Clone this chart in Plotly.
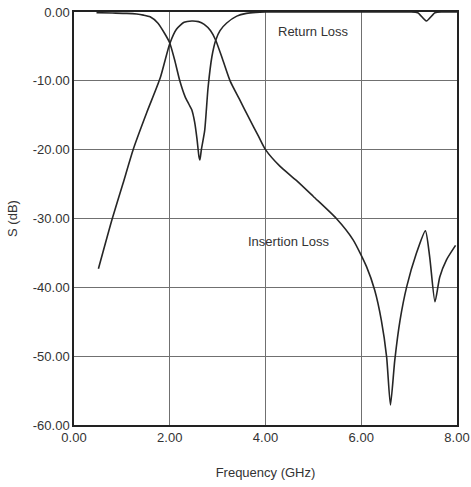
import plotly.graph_objects as go

# Return loss (S11)
rl_freq = [0.47, 0.8, 1.1, 1.31, 1.45, 1.59, 1.75, 1.9, 2.0, 2.1, 2.21, 2.32, 2.40, 2.46, 2.52, 2.57,
           2.61, 2.63, 2.66, 2.73, 2.80, 2.88, 2.96, 3.05, 3.19, 3.40, 3.6, 3.8, 4.0, 5.0, 6.0,
           7.0, 7.18, 7.36, 7.54, 7.7, 8.0]
rl_db = [-0.1, -0.15, -0.2, -0.3, -0.45, -0.7, -1.6, -3.2, -4.5, -6.9, -10.0, -12.3, -13.4, -14.2, -16.0, -18.5,
         -21.0, -21.5, -20.0, -17.2, -11.0, -6.5, -4.1, -2.7, -1.6, -0.6, -0.2, -0.05, 0, 0, 0,
         0, -0.1, -1.3, -0.1, 0, 0]

# Insertion loss (S21)
il_freq = [0.51, 0.80, 1.02, 1.24, 1.52, 1.80, 2.0, 2.14, 2.30, 2.46, 2.6, 2.72, 2.85, 2.96, 3.10, 3.26,
           3.45, 3.67, 3.85, 4.0, 4.3, 4.65, 5.0, 5.48, 5.83, 6.11, 6.28, 6.42, 6.53, 6.61, 6.70, 6.81,
           6.95, 7.15, 7.34, 7.43, 7.54, 7.64, 7.78, 7.97]
il_db = [-37.3, -30.0, -25.0, -19.9, -14.6, -9.6, -4.6, -2.5, -1.5, -1.3, -1.4, -1.8, -2.7, -4.1, -6.8, -10.0,
         -12.6, -15.6, -18.0, -20.0, -22.4, -24.5, -26.8, -30.0, -33.1, -37.0, -40.4, -44.8, -50.1, -57.1, -50.6, -44.8,
         -39.9, -35.1, -31.8, -35.6, -42.1, -38.5, -36.0, -33.9]

x_ticks = [0, 2, 4, 6, 8]
x_labels = ["0.00", "2.00", "4.00", "6.00", "8.00"]
y_ticks = [0, -10, -20, -30, -40, -50, -60]
y_labels = ["0.00", "-10.00", "-20.00", "-30.00", "-40.00", "-50.00", "-60.00"]

FONT = "Liberation Sans, Arial, sans-serif"
TXT = "#333"
LINE = "#262626"

fig = go.Figure()
fig.add_trace(go.Scatter(x=rl_freq, y=rl_db, mode="lines", name="Return Loss",
                         line=dict(color=LINE, width=1.6, shape="spline", smoothing=0.6)))
fig.add_trace(go.Scatter(x=il_freq, y=il_db, mode="lines", name="Insertion Loss",
                         line=dict(color=LINE, width=1.6, shape="spline", smoothing=0.6)))

fig.add_annotation(x=5.0, y=-2.9, text="Return Loss", showarrow=False,
                   font=dict(family=FONT, size=13, color=TXT))
fig.add_annotation(x=4.47, y=-33.4, text="Insertion Loss", showarrow=False,
                   font=dict(family=FONT, size=13, color=TXT))

axis_common = dict(showgrid=True, gridcolor="#707070", gridwidth=1.2, showline=True, linecolor="#222",
                   linewidth=1.5, mirror=True, zeroline=False, ticks="", automargin=False,
                   tickfont=dict(family=FONT, size=13, color=TXT))

fig.update_xaxes(range=[0, 8], tickvals=x_ticks, ticktext=x_labels,
                 title=dict(text="Frequency (GHz)", font=dict(family=FONT, size=13, color=TXT), standoff=24),
                 **axis_common)
fig.update_yaxes(range=[-60, 0], tickvals=y_ticks, ticktext=y_labels,
                 title=dict(text="S (dB)", font=dict(family=FONT, size=13, color=TXT), standoff=12),
                 **axis_common)

fig.update_layout(width=471, height=487, showlegend=False,
                  margin=dict(l=74, r=14, t=12, b=62, autoexpand=False),
                  paper_bgcolor="white", plot_bgcolor="white")

fig.write_html("out.html", config={"displayModeBar": False},
               post_script="document.body.style.margin='0px';")
